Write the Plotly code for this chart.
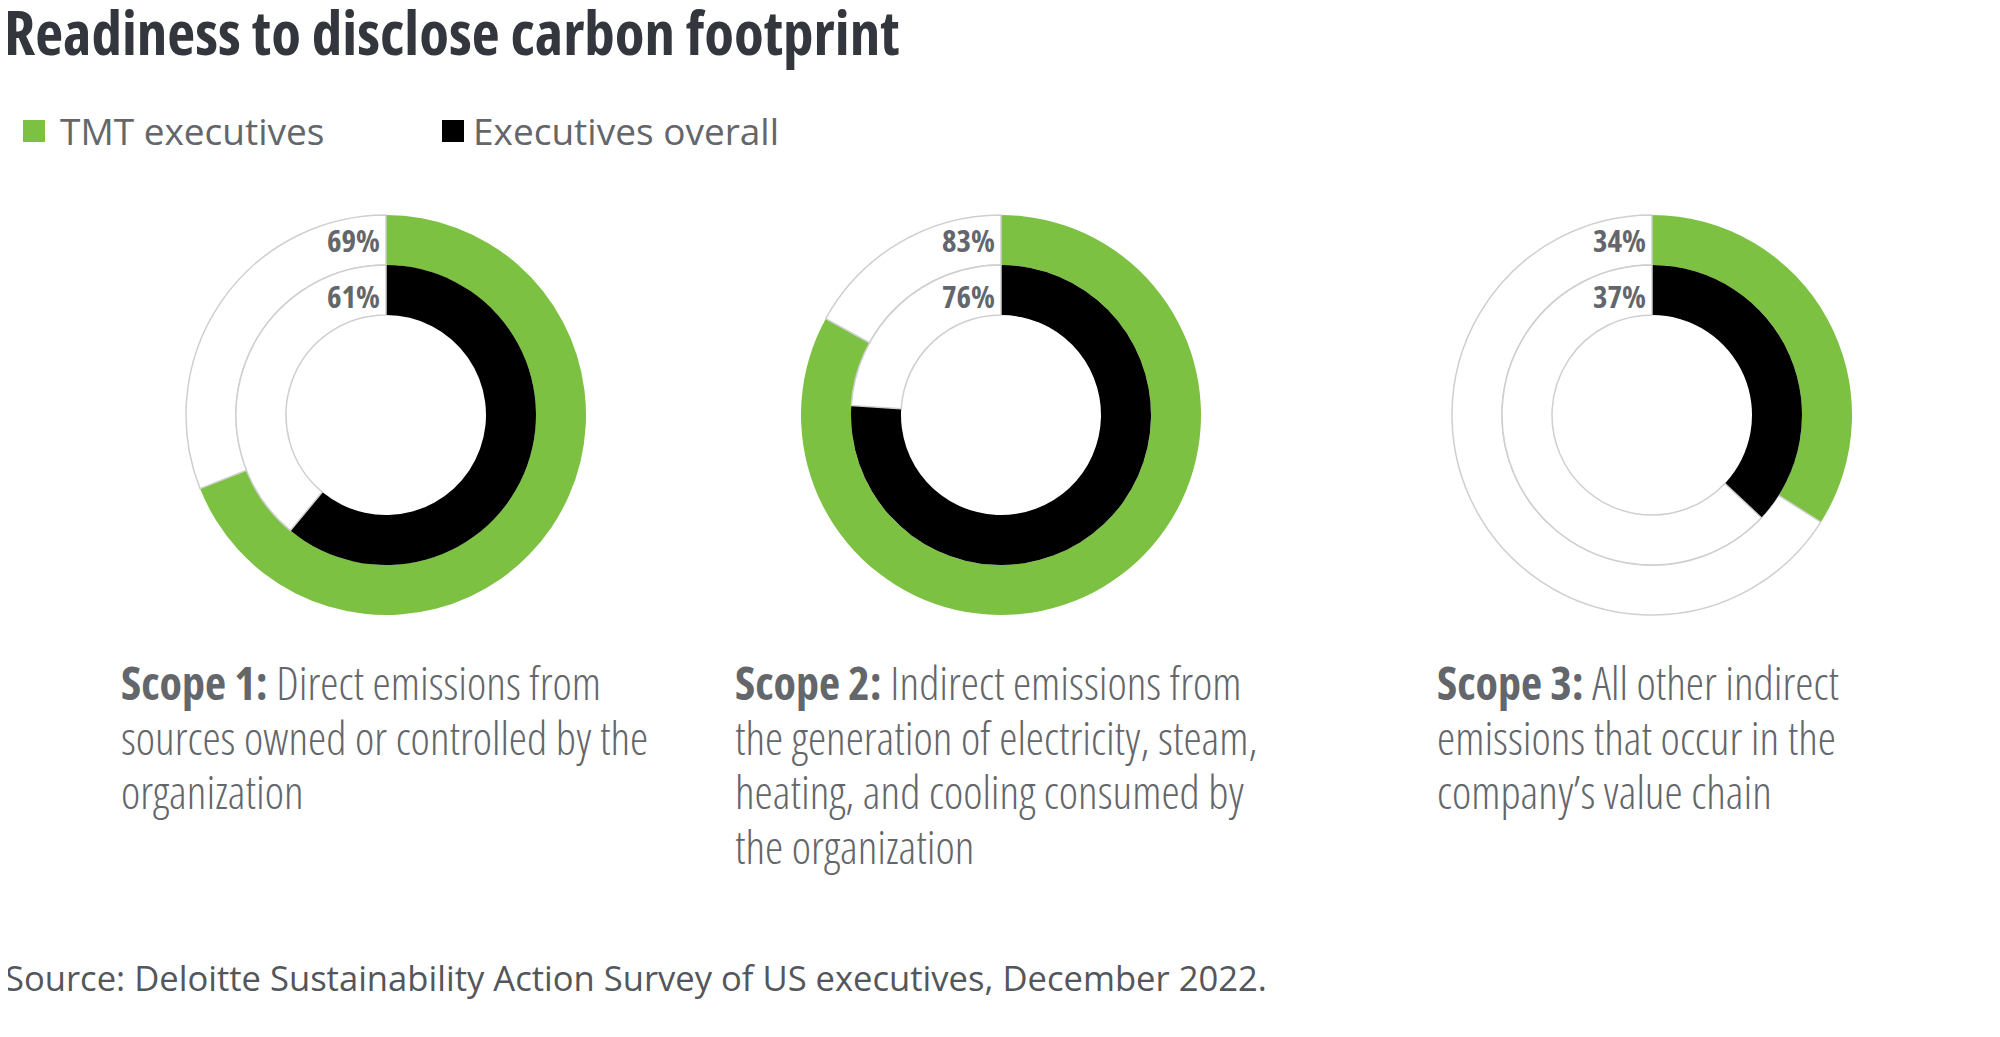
import plotly.graph_objects as go

# ---------------- data ----------------
scopes = ["Scope 1", "Scope 2", "Scope 3"]
tmt_executives = [69, 83, 34]
executives_overall = [61, 76, 37]
series_names = ["TMT executives", "Executives overall"]
desc_heads = ["Scope 1:", "Scope 2:", "Scope 3:"]
desc_lines = [
    ["Direct emissions from", "sources owned or controlled by the", "organization"],
    ["Indirect emissions from", "the generation of electricity, steam,",
     "heating, and cooling consumed by", "the organization"],
    ["All other indirect", "emissions that occur in the", "company\u2019s value chain"],
]
title_text = "Readiness to disclose carbon footprint"
source_text = "Source: Deloitte Sustainability Action Survey of US executives, December 2022."

# ---------------- styling / layout ----------------
W, H = 2000, 1037
GREEN = "#7dc142"
BLACK = "#000000"
GRAY_TXT = "#63666a"
RING_LINE = "#cfcfcf"
SANS = "Open Sans, Noto Sans, sans-serif"

centers_x = [378, 993, 1644]
center_y = 407
r_outer, r_mid, r_inner = 200, 150, 100
desc_x = [111, 725, 1427]
desc_y0, desc_dy = 674, 54.6


def px_x(x):
    return x / W


def px_y(y):
    return 1 - y / H


def domain(cx, cy, r):
    return dict(x=[px_x(cx - r), px_x(cx + r)], y=[px_y(cy + r), px_y(cy - r)])


def cond(t):
    return f'<span style="font-stretch:condensed">{t}</span>'


fig = go.Figure()

for i, cx in enumerate(centers_x):
    v_out = tmt_executives[i]
    v_in = executives_overall[i]
    fig.add_trace(go.Pie(
        values=[v_out, 100 - v_out],
        labels=[series_names[0], "rest"],
        domain=domain(cx, center_y, r_outer),
        hole=r_mid / r_outer,
        sort=False, direction="clockwise", rotation=0,
        marker=dict(colors=[GREEN, "white"], line=dict(color=RING_LINE, width=[0, 1.5])),
        textinfo="none", hoverinfo="skip", showlegend=False,
    ))
    fig.add_trace(go.Pie(
        values=[v_in, 100 - v_in],
        labels=[series_names[1], "rest"],
        domain=domain(cx, center_y, r_mid),
        hole=r_inner / r_mid,
        sort=False, direction="clockwise", rotation=0,
        marker=dict(colors=[BLACK, "white"], line=dict(color=RING_LINE, width=[0, 1.5])),
        textinfo="none", hoverinfo="skip", showlegend=False,
    ))

annotations = []
# percentage labels
for i, cx in enumerate(centers_x):
    for val, dy in [(tmt_executives[i], 175), (executives_overall[i], 119)]:
        annotations.append(dict(
            x=px_x(cx - 4), y=px_y(center_y - dy), xref="paper", yref="paper",
            text=cond(f"{val}%"), showarrow=False, xanchor="right", yanchor="middle",
            font=dict(family=SANS, size=31, color=GRAY_TXT, weight=700),
        ))

# scope descriptions (one annotation per line)
for i, lines in enumerate(desc_lines):
    for j, line in enumerate(lines):
        txt = f"<b>{desc_heads[i]}</b> {line}" if j == 0 else line
        annotations.append(dict(
            x=px_x(desc_x[i]), y=px_y(desc_y0 + j * desc_dy), xref="paper", yref="paper",
            text=cond(txt), showarrow=False, xanchor="left", yanchor="middle", align="left",
            font=dict(family=SANS, size=46, color=GRAY_TXT, weight=300),
        ))

# title
annotations.append(dict(
    x=px_x(-6), y=px_y(23), xref="paper", yref="paper", text=cond(f"<b>{title_text}</b>"),
    showarrow=False, xanchor="left", yanchor="middle",
    font=dict(family=SANS, size=61, color="#33363d"),
))

# legend
legend_sq_x = [15, 434]
legend_txt_x = [50, 463]
legend_colors = [GREEN, BLACK]
shapes = []
for k in range(2):
    shapes.append(dict(
        type="rect", xref="paper", yref="paper",
        x0=px_x(legend_sq_x[k]), x1=px_x(legend_sq_x[k] + 22),
        y0=px_y(134), y1=px_y(112),
        fillcolor=legend_colors[k], line=dict(width=0),
    ))
    annotations.append(dict(
        x=px_x(legend_txt_x[k]), y=px_y(123), xref="paper", yref="paper",
        text=series_names[k], showarrow=False, xanchor="left", yanchor="middle",
        font=dict(family=SANS, size=37, color=GRAY_TXT),
    ))

# source
annotations.append(dict(
    x=px_x(-5), y=px_y(969), xref="paper", yref="paper", text=source_text,
    showarrow=False, xanchor="left", yanchor="middle",
    font=dict(family=SANS, size=34.6, color="#53565a"),
))

fig.update_layout(
    width=W, height=H,
    margin=dict(l=0, r=0, t=0, b=0),
    paper_bgcolor="white", plot_bgcolor="white",
    annotations=annotations, shapes=shapes,
    showlegend=False,
)

fig.write_html("out.html")
